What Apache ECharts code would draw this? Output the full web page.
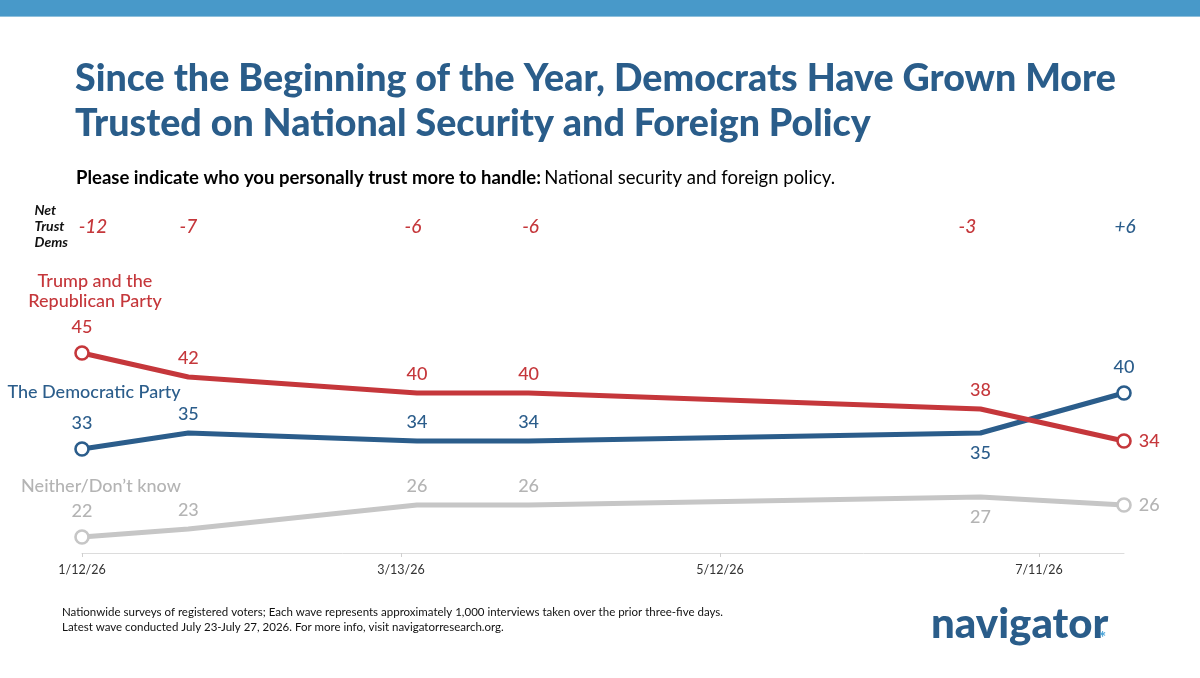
<!DOCTYPE html>
<html><head><meta charset="utf-8">
<script src="https://cdn.jsdelivr.net/npm/echarts@6/dist/echarts.min.js"></script>
<style>html,body{margin:0;padding:0;background:#fff}#c{width:1200px;height:678px}</style>
</head><body><div id="c"></div>
<script>
// ---- data ----
const waveDates = ['2026-01-12','2026-02-01','2026-03-16','2026-04-06','2026-06-30','2026-07-27'];
const repValues = [45, 42, 40, 40, 38, 34];
const demValues = [33, 35, 34, 34, 35, 40];
const neitherValues = [22, 23, 26, 26, 27, 26];
const netTrustDems = ['-12', '-7', '-6', '-6', '-3', '+6'];
const tickDates = ['2026-01-12','2026-03-13','2026-05-12','2026-07-11'];
const tickLabels = ['1/12/26','3/13/26','5/12/26','7/11/26'];

// ---- helpers / style ----
const DAY = 86400000;
const t0 = Date.parse(waveDates[0]);
const dayOf = d => Math.round((Date.parse(d) - t0) / DAY);
const xs = waveDates.map(dayOf);
const tickDays = tickDates.map(dayOf);
const RED = '#c5373b', BLUE = '#2b5d8b', GREY = '#c6c6c6', GREYTXT = '#b4b4b4';
const FONT = 'Lato, "Open Sans", sans-serif';
const NET_ROW = 60.75;
const netShift = [11, 0, -4, 2, -13, 1];   // small horizontal nudges of net-trust labels (px)

const repPos = ['top','top','top','top','top','right'];
const demPos = ['top','top','top','top','bottom','top'];
const neiPos = ['top','top','top','top','bottom','right'];

function build(vals, pos) {
  return vals.map((v, i) => {
    const end = (i === 0 || i === vals.length - 1);
    return {
      value: [xs[i], v],
      symbolSize: end ? 13 : 0,
      label: { position: pos[i], distance: end ? (pos[i] === 'right' ? 7 : 9) : (pos[i]==='bottom'?11:10) }
    };
  });
}
function lineSeries(name, vals, pos, color, txtColor, z) {
  return {
    name, type: 'line', z,
    data: build(vals, pos),
    symbol: 'circle',
    showSymbol: true,
    lineStyle: { color, width: 5 },
    itemStyle: { color: '#fff', borderColor: color, borderWidth: 2.6 },
    label: { show: true, color: txtColor, fontFamily: FONT, fontWeight: 500, fontSize: 18, formatter: p => p.value[1] },
    emphasis: { disabled: true },
    animation: false
  };
}

const chart = echarts.init(document.getElementById('c'), null, { renderer: 'canvas' });
chart.setOption({
  backgroundColor: '#fff',
  animation: false,
  grid: { left: 82, right: 76, top: 201, bottom: 125 },
  xAxis: {
    type: 'value', min: 0, max: xs[xs.length - 1],
    axisLine: { show: true, lineStyle: { color: '#dcdcdc', width: 1 } },
    axisTick: { show: true, customValues: tickDays, length: 4, lineStyle: { color: '#cfcfcf' } },
    axisLabel: { customValues: tickDays, color: '#333', fontFamily: FONT, fontSize: 12.5, margin: 10,
      formatter: v => tickLabels[tickDays.indexOf(v)] || '' },
    splitLine: { show: false }
  },
  yAxis: { type: 'value', min: 20, max: 64, show: false, splitLine: { show: false } },
  series: [
    lineSeries('Neither/Don\u2019t know', neitherValues, neiPos, GREY, GREYTXT, 2),
    lineSeries('The Democratic Party', demValues, demPos, BLUE, BLUE, 3),
    lineSeries('Trump and the Republican Party', repValues, repPos, RED, RED, 4),
    {
      type: 'scatter', symbolSize: 0, z: 5, animation: false,
      data: xs.map((x, i) => ({ value: [x, NET_ROW], label: { offset: [netShift[i], 0], color: netTrustDems[i].startsWith('+') ? BLUE : RED } })),
      label: { show: true, position: 'inside', fontFamily: FONT, fontSize: 19, fontStyle: 'italic', fontWeight: 500,
        formatter: p => netTrustDems[p.dataIndex] },
      itemStyle: { color: '#fff', opacity: 1 },
      emphasis: { disabled: true }
    }
  ],
  graphic: [
    { type: 'rect', left: 0, top: 0, shape: { width: 1200, height: 16 }, style: { fill: '#4899c9' } },
    { type: 'rect', left: 0, top: 16, shape: { width: 1200, height: 1 }, style: { fill: '#8fc0dc' } },
    { type: 'text', left: 75, top: 60, style: { text: 'Since the Beginning of the Year, Democrats Have Grown More', font: '900 37.6px ' + FONT, fill: '#2a5d8a' } },
    { type: 'text', left: 75, top: 105, style: { text: 'Trusted on National Security and Foreign Policy', font: '900 37.6px ' + FONT, fill: '#2a5d8a' } },
    { type: 'text', left: 76, top: 169, style: {
      text: '{b|Please indicate who you personally trust more to handle:} {r|National security and foreign policy.}',
      rich: { b: { fontFamily: FONT, fontWeight: 'bold', fontSize: 18.5, color: '#111' }, r: { fontFamily: FONT, fontSize: 18.5, color: '#111' } } } },
    { type: 'text', right: 1200 - 68, top: 202, style: { text: 'Net\nTrust\nDems', font: 'italic bold 14px ' + FONT, fill: '#111', align: 'right', lineHeight: 16 } },
    { type: 'text', x: 95, y: 291, style: { text: 'Trump and the\nRepublican Party', font: '500 18px ' + FONT, fill: RED, align: 'center', verticalAlign: 'middle', lineHeight: 20 } },
    { type: 'text', x: 94, y: 392, style: { text: 'The Democratic Party', font: '500 18px ' + FONT, fill: BLUE, align: 'center', verticalAlign: 'middle' } },
    { type: 'text', x: 101, y: 486, style: { text: 'Neither/Don\u2019t know', font: '500 18px ' + FONT, fill: GREYTXT, align: 'center', verticalAlign: 'middle' } },
    { type: 'text', left: 62, top: 605, style: { text: 'Nationwide surveys of registered voters; Each wave represents approximately 1,000 interviews taken over the prior three-five days.\nLatest wave conducted July 23-July 27, 2026. For more info, visit navigatorresearch.org.', font: '11.5px ' + FONT, fill: '#111', lineHeight: 15 } },
    { type: 'text', left: 931, top: 603, style: { text: 'navigator', font: '900 42px ' + FONT, fill: '#2a5d8a' } },
    { type: 'text', left: 1099, top: 630, style: { text: '*', font: 'bold 17px ' + FONT, fill: '#4aa3d8' } }
  ]
});
</script></body></html>
